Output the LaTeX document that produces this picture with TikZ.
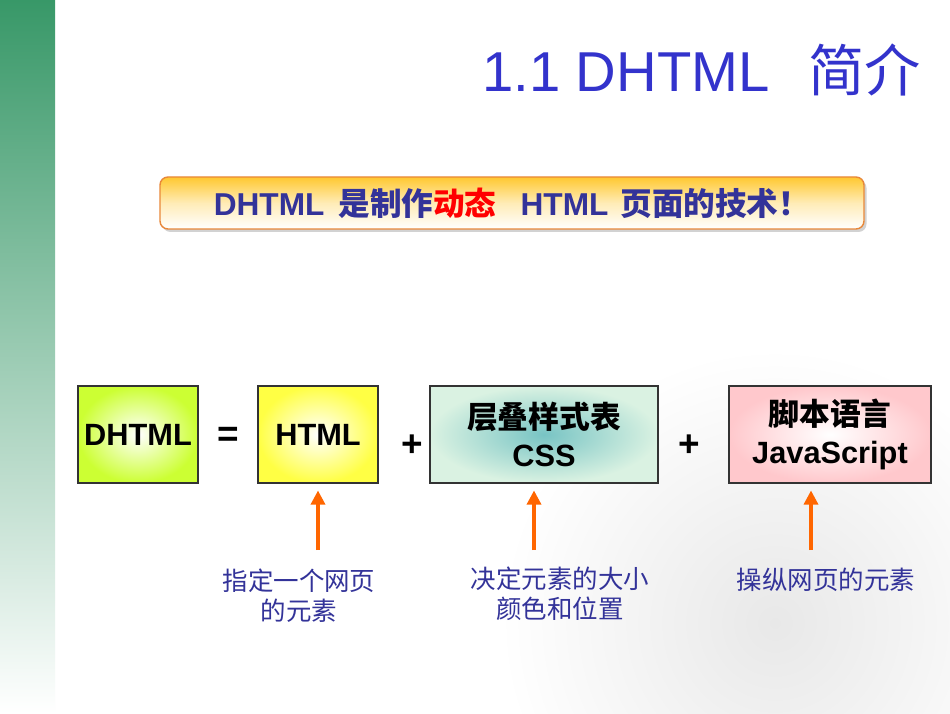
\documentclass[tikz,border=0pt]{standalone}
\usepackage{fontspec}
\setmainfont{Liberation Sans}
\newfontfamily\cjk{Noto Sans CJK SC}
\usepackage{xcolor}
\usetikzlibrary{arrows.meta,shadows}
\definecolor{navyblue}{RGB}{51,51,153}
\definecolor{titleblue}{RGB}{51,51,204}
\definecolor{barorange}{RGB}{232,136,58}
\definecolor{arroworange}{RGB}{255,102,0}
\definecolor{bargreen}{RGB}{56,152,104}
\definecolor{dhtmlgreen}{RGB}{204,255,51}
\definecolor{htmlyellow}{RGB}{255,255,68}
\definecolor{cssteal}{RGB}{120,196,196}
\definecolor{csspale}{RGB}{218,242,226}
\definecolor{jspink}{RGB}{255,200,204}
\definecolor{bannertop}{RGB}{255,200,48}

\begin{document}
\begin{tikzpicture}[
  box/.style={draw=black!80, line width=0.6pt, minimum height=1.94cm, align=center, inner sep=0pt,
    font=\fontsize{17.5}{21.5}\selectfont\bfseries},
  op/.style={font=\fontsize{21}{24}\selectfont\bfseries},
  arr/.style={draw=arroworange, line width=1.8pt, -{Triangle[length=8pt,width=8pt]}, shorten >=0.14cm},
  note/.style={text=navyblue, align=center, font=\cjk\fontsize{14.5}{17}\selectfont}]
  \useasboundingbox (0,0) rectangle (19,14.26);
  \fill[white] (0,0) rectangle (19,14.26);
  \shade[inner color=black!9, outer color=white] (15.5,1.8) circle (5.5);
  \shade[top color=bargreen, bottom color=white] (0,0) rectangle (1.1,14.26);

  \node[anchor=east, text=titleblue, font=\fontsize{32}{36}\selectfont] (title) at (18.54,12.86) {1.1 DHTML\ \ \hspace{0.15cm}{\cjk 简介}};

  \node[draw=barorange, line width=0.8pt, rounded corners=0.16cm, minimum width=14.08cm, minimum height=1.04cm,
    top color=bannertop, bottom color=white, middle color=bannertop!35,
    drop shadow={shadow xshift=0.05cm, shadow yshift=-0.06cm, fill=black!35},
    text=navyblue, font=\fontsize{18}{21}\selectfont\bfseries] (banner) at (10.24,10.2)
    {DHTML\hspace{0.28cm}{\cjk 是制作\textcolor{red}{动态}}\hspace{0.48cm}HTML\hspace{0.24cm}{\cjk 页面的技术！}\hspace{0.28cm}};

  \node[box, minimum width=2.4cm, inner color=white, outer color=dhtmlgreen] (dhtml) at (2.76,5.57) {DHTML};
  \node[box, minimum width=2.4cm, inner color=white, outer color=htmlyellow] (html) at (6.36,5.57) {HTML};
  \node[box, minimum width=4.56cm, inner color=cssteal, outer color=csspale] (css) at (10.88,5.57) {{\cjk 层叠样式表}\\CSS};
  \node[box, minimum width=4.04cm, inner color=white, outer color=jspink] (js) at (16.6,5.57) {{\cjk 脚本语言}\\JavaScript};

  \node[op] (eq) at (4.56,5.52) {=};
  \node[op] (plus1) at (8.24,5.34) {+};
  \node[op] (plus2) at (13.78,5.34) {+};

  \node[note] (n1) at (5.98,2.34) {指定一个网页\\的元素};
  \node[note] (n2) at (11.2,2.38) {决定元素的大小\\颜色和位置};
  \node[note] (n3) at (16.52,2.66) {操纵网页的元素};

  \coordinate (a1) at (6.36,3.26);
  \coordinate (a2) at (10.68,3.26);
  \coordinate (a3) at (16.22,3.26);
  \draw[arr] (a1) -- (a1 |- html.south);
  \draw[arr] (a2) -- (a2 |- css.south);
  \draw[arr] (a3) -- (a3 |- js.south);
\end{tikzpicture}
\end{document}
